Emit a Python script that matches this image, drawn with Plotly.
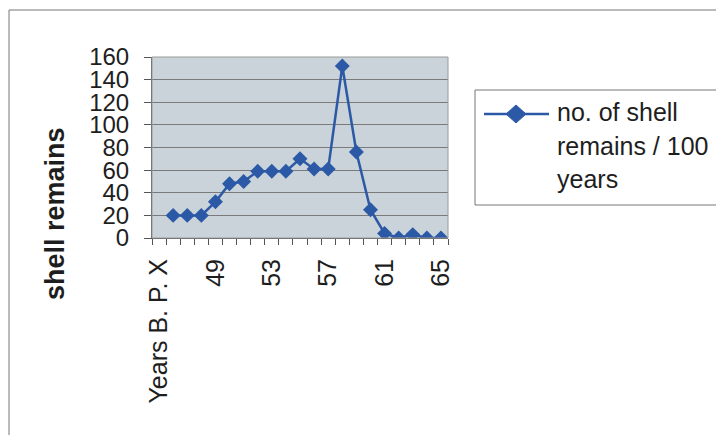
import plotly.graph_objects as go

# Category axis: the first slot carries the axis caption, then years 46..65
categories = ["Years B. P. X"] + [str(y) for y in range(46, 66)]
shell_counts = [None, 20, 20, 20, 32, 48, 50, 59, 59, 59, 70, 61, 61,
                152, 76, 25, 4, 0, 3, 0, 0]
label_every = 4
tick_text = [c if i % label_every == 0 else "" for i, c in enumerate(categories)]

series_name = "no. of shell remains / 100 years"
legend_lines = ["no. of shell", "remains / 100", "years"]
y_title = "shell remains"

W, H = 716, 435
ML, MR, MT, MB = 152, 268, 57, 197
PW, PH = W - ML - MR, H - MT - MB

BLUE = "#2c59a6"
FONT = "Arial, Liberation Sans, sans-serif"
TEXT = "#1e1e1e"


def px(x):
    return (x - ML) / PW


def py(y):
    return (H - MB - y) / PH


fig = go.Figure()
fig.add_trace(go.Scatter(
    x=categories, y=shell_counts, mode="lines+markers", name=series_name,
    line=dict(color=BLUE, width=2.5),
    marker=dict(symbol="diamond", size=11.5, color=BLUE),
    showlegend=False,
))

shapes = [
    # outer chart frame
    dict(type="rect", xref="paper", yref="paper",
         x0=px(9), x1=px(722), y0=py(10), y1=py(442),
         line=dict(color="#777777", width=1)),
    # plot area frame
    dict(type="rect", xref="paper", yref="paper", x0=0, x1=1, y0=0, y1=1,
         line=dict(color="#9a9a9a", width=1)),
    # legend box
    dict(type="rect", xref="paper", yref="paper",
         x0=px(475), x1=px(722), y0=py(90), y1=py(205),
         line=dict(color="#777777", width=1)),
    # legend line sample
    dict(type="line", xref="paper", yref="paper",
         x0=px(484), x1=px(549), y0=py(114), y1=py(114),
         line=dict(color=BLUE, width=2.5)),
    # legend diamond
    dict(type="path", xref="paper", yref="paper",
         path=(f"M {px(506)} {py(114)} L {px(516)} {py(105)} "
               f"L {px(526)} {py(114)} L {px(516)} {py(123)} Z"),
         fillcolor=BLUE, line=dict(color=BLUE, width=1)),
]

annotations = [
    dict(text=f"<b>{y_title}</b>", xref="paper", yref="paper",
         x=px(55), y=py(214), textangle=-90, showarrow=False,
         xanchor="center", yanchor="middle",
         font=dict(family=FONT, size=27, color=TEXT)),
]
for txt, yc in zip(legend_lines, [112, 146, 179]):
    annotations.append(dict(
        text=txt, xref="paper", yref="paper", x=px(555), y=py(yc),
        xanchor="left", yanchor="middle", showarrow=False,
        font=dict(family=FONT, size=25, color=TEXT)))

fig.update_layout(
    width=W, height=H,
    margin=dict(l=ML, r=MR, t=MT, b=MB, autoexpand=False),
    paper_bgcolor="white", plot_bgcolor="#c9d3d9",
    font=dict(family=FONT, size=24, color=TEXT),
    shapes=shapes, annotations=annotations,
    xaxis=dict(
        type="category", categoryorder="array", categoryarray=categories,
        tickmode="array", tickvals=categories, ticktext=tick_text,
        tickson="boundaries", ticks="outside", ticklen=6,
        tickcolor="#555555", tickangle=-90, ticklabelstandoff=10,
        showline=True, linecolor="#555555", linewidth=1,
        showgrid=False, zeroline=False, range=[-0.5, 20.5],
        tickfont=dict(family=FONT, size=25, color=TEXT),
    ),
    yaxis=dict(
        range=[0, 160], dtick=20, ticks="outside", ticklen=7,
        tickcolor="#555555", ticklabelstandoff=10,
        showline=True, linecolor="#555555", linewidth=1,
        showgrid=True, gridcolor="#7a7a7a", gridwidth=1, zeroline=False,
        tickfont=dict(family=FONT, size=24, color=TEXT),
    ),
)

fig.write_html("out.html")
